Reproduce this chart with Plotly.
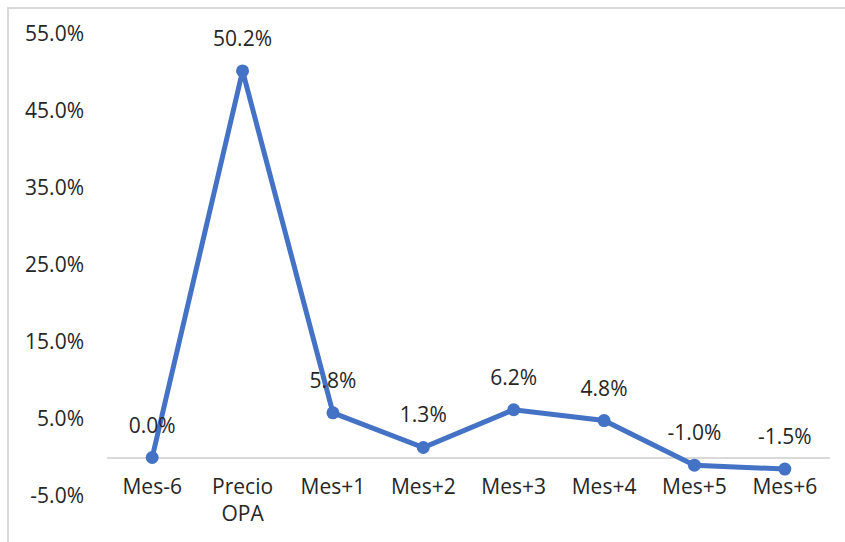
import plotly.graph_objects as go

categories = ["Mes-6", "Precio<br>OPA", "Mes+1", "Mes+2", "Mes+3", "Mes+4", "Mes+5", "Mes+6"]
values = [0.0, 50.2, 5.8, 1.3, 6.2, 4.8, -1.0, -1.5]
labels = [f"{v:.1f}%" for v in values]
y_ticks = [-5, 5, 15, 25, 35, 45, 55]
y_ticktext = [f"{t:.1f}%" for t in y_ticks]

W, H = 845, 542
L, R, T, B = 107, 15, 34, 46
pw, ph = W - L - R, H - T - B

FONT = "Open Sans"
FS = 21
color = "#4472C4"

fig = go.Figure()
fig.add_trace(go.Scatter(
    x=categories, y=values, mode="lines+markers",
    line=dict(color=color, width=5),
    marker=dict(color=color, size=13),
    cliponaxis=False, hoverinfo="skip",
))
fig.add_trace(go.Scatter(
    x=categories, y=values, mode="markers+text",
    marker=dict(color="rgba(0,0,0,0)", size=30),
    text=labels, textposition="top center",
    textfont=dict(family=FONT, size=FS, color="#262626"),
    cliponaxis=False, hoverinfo="skip",
))

zero_pos = (0 - (-5)) / 60.0

fig.update_layout(
    width=W, height=H,
    margin=dict(l=L, r=R, t=T, b=B, pad=0),
    paper_bgcolor="white", plot_bgcolor="white",
    showlegend=False,
    font=dict(family=FONT, size=FS, color="#404040"),
    xaxis=dict(
        type="category", range=[-0.5, 7.5],
        anchor="free", position=zero_pos,
        showline=False, showgrid=False, zeroline=False,
        ticks="", ticklabelstandoff=14,
        tickfont=dict(family=FONT, size=FS, color="#262626"),
    ),
    yaxis=dict(
        range=[-5, 55], tickvals=y_ticks, ticktext=y_ticktext,
        showgrid=False, showline=False,
        zeroline=True, zerolinecolor="#D9D9D9", zerolinewidth=2,
        ticks="", ticklabelstandoff=22,
        tickfont=dict(family=FONT, size=FS, color="#262626"),
    ),
    shapes=[dict(
        type="rect", xref="paper", yref="paper",
        x0=(8 - L) / pw, x1=(W + 5 - L) / pw,
        y0=-(H + 5 - T - ph) / ph, y1=(H - 8 - B) / ph,
        line=dict(color="#D9D9D9", width=2), fillcolor="rgba(0,0,0,0)",
        layer="below",
    )],
)

fig.write_html("out.html")
